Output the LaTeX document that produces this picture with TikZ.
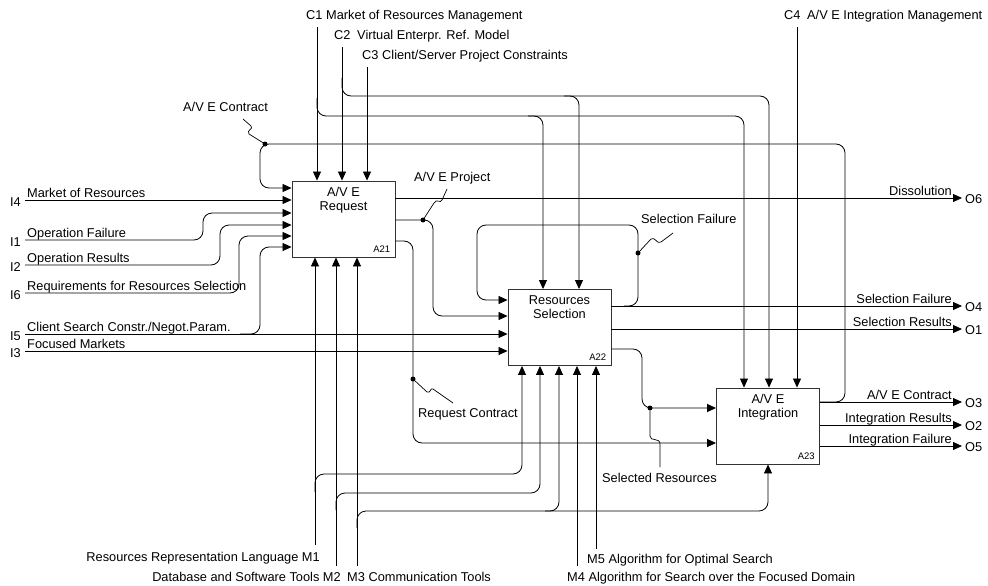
\documentclass[tikz,border=0pt]{standalone}
\usepackage{fontspec}
\setmainfont{Liberation Sans}
\usetikzlibrary{arrows.meta, positioning, calc}

\tikzset{
  box/.style={draw=black!80, line width=0.9pt, minimum width=103pt, minimum height=76pt, inner sep=0pt},
  ttl/.style={align=center, font=\fontsize{12.8}{14}\selectfont, inner sep=0pt},
  num/.style={font=\fontsize{9.5}{10}\selectfont, inner sep=0pt, anchor=south east},
  lbl/.style={font=\fontsize{12.8}{14}\selectfont, inner sep=0pt},
  arr/.style={-{Triangle[length=9pt, width=8pt]}, line width=0.8pt},
  wire/.style={arr, rounded corners=9pt},
  lead/.style={line width=0.7pt},
  jn/.style={circle, fill, inner sep=0pt, minimum size=5pt},
}

\begin{document}
\begin{tikzpicture}[x=1pt, y=-1pt]
  \useasboundingbox (0,0) rectangle (988,586);

  % activity boxes
  \node[box] (A21) at (343.5,219) {};
  \node[box] (A22) at (559.5,327.5) {};
  \node[box] (A23) at (768,426) {};
  \node[ttl, below=6pt of A21.north] (t21) {A/V E\\Request};
  \node[ttl, below=6pt of A22.north] (t22) {Resources\\Selection};
  \node[ttl, below=6pt of A23.north] (t23) {A/V E\\Integration};
  \node[num] (n21) at ([xshift=-5pt, yshift=5pt]A21.south east) {A21};
  \node[num] (n22) at ([xshift=-5pt, yshift=5pt]A22.south east) {A22};
  \node[num] (n23) at ([xshift=-5pt, yshift=5pt]A23.south east) {A23};

  % inputs
  \foreach \yy/\txt/\cd in {200/Market of Resources/I4, 240/Operation Failure/I1,
      265/Operation Results/I2, 293/Requirements for Resources Selection/I6,
      334/{Client Search Constr./Negot.Param.}/I5, 351/Focused Markets/I3} {
    \coordinate (\cd) at (25,\yy);
    \node[lbl, anchor=base west] (t\cd) at (27,\yy-2.5) {\txt};
    \node[lbl, anchor=east] (n\cd) at (21,\yy+2) {\cd};
  }
  \draw[arr] (I4) -- (I4 -| A21.west);
  \draw[wire] (I1) -- (203,240) -- (203,213) -- (203,213 -| A21.west);
  \draw[wire] (I2) -- (220,265) -- (220,225) -- (220,225 -| A21.west);
  \draw[wire] (I6) -- (239,293) -- (239,236) -- (239,236 -| A21.west);
  \draw[arr] (I5) -- (I5 -| A22.west);
  \draw[wire] (240,334) -- (260,334) -- (260,247) -- (260,247 -| A21.west);
  \draw[arr] (I3) -- (I3 -| A22.west);

  % controls
  \foreach \cd/\bx/\xx/\yy/\cx/\tx/\txt in {C1/A21/317/27/306/326/Market of Resources Management,
      C2/A21/342/47/334/357/{Virtual Enterpr. Ref. Model},
      C3/A21/367/67/362/382/{Client/Server Project Constraints},
      C4/A23/797/27/784/807/{A/V E Integration Management}} {
    \coordinate (\cd) at (\xx,\yy);
    \draw[arr] (\cd) -- (\cd |- \bx.north);
    \node[lbl, anchor=base west] (n\cd) at (\cx,\yy-7.2) {\cd};
    \node[lbl, anchor=base west] (t\cd) at (\tx,\yy-7.2) {\txt};
  }
  \draw[wire] (317,98) |- (744,116) -- (744,0 |- A23.north);
  \draw[wire] (528,116) -| (543,0 |- A22.north);
  \draw[wire] (342,78) |- (769,96) -- (769,0 |- A23.north);
  \draw[wire] (564,96) -| (579,0 |- A22.north);

  % mechanisms
  \coordinate (M1) at (315,545);
  \coordinate (M2) at (336,566);
  \coordinate (M3) at (357,566);
  \coordinate (M4) at (577,566);
  \coordinate (M5) at (596,549);
  \draw[arr] (M1) -- (M1 |- A21.south);
  \draw[arr] (M2) -- (M2 |- A21.south);
  \draw[arr] (M3) -- (M3 |- A21.south);
  \draw[arr] (M4) -- (M4 |- A22.south);
  \draw[arr] (M5) -- (M5 |- A22.south);
  \draw[wire] (315,492) |- (522,474) -- (522,0 |- A22.south);
  \draw[wire] (336,510) |- (540,493) -- (540,0 |- A22.south);
  \draw[wire] (357,528) |- (768,511) -- (768,0 |- A23.south);
  \draw[wire] (545,511) -| (559,0 |- A22.south);
  \node[lbl, anchor=base east] (tM1) at (320,561.5) {Resources Representation Language M1};
  \node[lbl, anchor=base east] (tM2) at (341,581.5) {Database and Software Tools M2};
  \node[lbl, anchor=base west] (tM3) at (347,581.5) {M3 Communication Tools};
  \node[lbl, anchor=base west] (tM5) at (587,563.5) {M5 Algorithm for Optimal Search};
  \node[lbl, anchor=base west] (tM4) at (567,581.5) {M4 Algorithm for Search over the Focused Domain};

  % outputs
  \foreach \bx/\yy/\txt/\cd in {A21/198/Dissolution/O6, A22/306/Selection Failure/O4,
      A22/329/Selection Results/O1, A23/402/{A/V E Contract}/O3,
      A23/425/Integration Results/O2, A23/446/Integration Failure/O5} {
    \coordinate (end\cd) at (962,\yy);
    \draw[arr] (end\cd -| \bx.east) -- (end\cd);
    \node[lbl, anchor=base east] (t\cd) at (952,\yy-3) {\txt};
    \node[lbl, anchor=west] (n\cd) at (965,\yy+1) {\cd};
  }

  % internal arrows
  \draw[wire] (A21.east |- 0,220) -- (433,220) -- (433,316) -- (433,316 -| A22.west);
  \draw[wire] (A21.east |- 0,241) -- (413,241) -- (413,443) -- (413,443 -| A23.west);
  \draw[wire] (624,306) -- (638,306) -- (638,225) -- (477,225) -- (477,300) -- (477,300 -| A22.west);
  \draw[wire] (A22.east |- 0,349) -- (642,349) -- (642,408) -- (642,408 -| A23.west);
  \draw[wire] (A23.east |- 0,402) -- (845,402) -- (845,144) -- (260,144) -- (260,188) -- (260,188 -| A21.west);

  % junctions and their labels
  \node[jn] (dcon) at (265,144) {};
  \node[jn] (dproj) at (423,220) {};
  \node[jn] (dsel) at (638,253) {};
  \node[jn] (dreq) at (413,379) {};
  \node[jn] (dres) at (650,408) {};
  \node[lbl, anchor=base west] (lcon) at (183,111.5) {A/V E Contract};
  \node[lbl, anchor=base west] (lproj) at (414,181.5) {A/V E Project};
  \node[lbl, anchor=base west] (lsel) at (641,223.5) {Selection Failure};
  \node[lbl, anchor=base west] (lreq) at (418,417.5) {Request Contract};
  \node[lbl, anchor=base west] (lres) at (602,482.5) {Selected Resources};
  \draw[lead] (243,119) -- (251,126) .. controls (254,129) and (246,130) .. (249,134) -- (dcon);
  \draw[lead] (447,189) -- (442,200) .. controls (440,204) and (437,198) .. (434,203) -- (dproj);
  \draw[lead] (673,233) -- (661,242) .. controls (657,245) and (655,236) .. (651,239) -- (dsel);
  \draw[lead] (453,403) -- (433,389) .. controls (430,387) and (431,394) .. (427,392) -- (dreq);
  \draw[lead] (dres) -- (650,436) .. controls (650,442) and (660,437) .. (660,444) -- (660,467);
\end{tikzpicture}
\end{document}
